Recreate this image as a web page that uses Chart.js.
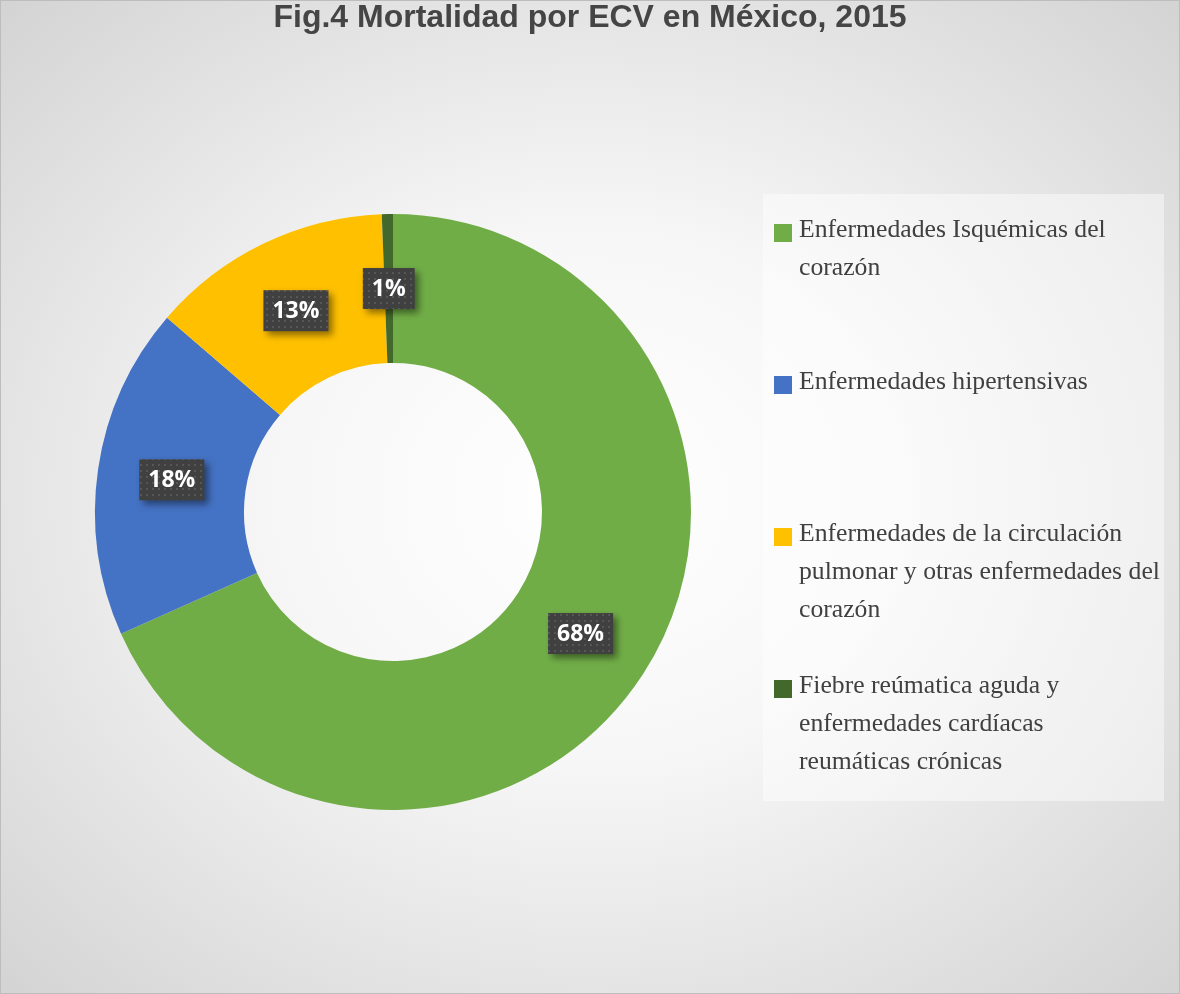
<!DOCTYPE html>
<html>
<head>
<meta charset="utf-8">
<script src="https://cdn.jsdelivr.net/npm/chart.js@4.4.1/dist/chart.umd.min.js"></script>
<style>
  body { margin: 0; }
  #wrap {
    position: relative; width: 1180px; height: 994px; box-sizing: border-box;
    border: 1px solid #bdbdbd;
    background: radial-gradient(ellipse 75% 75% at 50% 50%, #ffffff 0%, #f7f7f7 35%, #d0d0d0 100%);
    overflow: hidden;
  }
  #title {
    position: absolute; left: 0; top: 0; width: 100%; text-align: center;
    font: bold 32px "Liberation Sans", Arial, sans-serif; line-height: 31px; color: #454545;
  }
  canvas { position: absolute; left: 0; top: 0; }
  #legend {
    position: absolute; left: 762px; top: 193px; width: 401px; height: 607px;
    background: rgba(255,255,255,0.45); box-sizing: border-box; padding-top: 16px;
  }
  .item { position: relative; height: 152px; padding-left: 36px; white-space: nowrap;
    font: 25.7px "Liberation Serif", "Times New Roman", serif; line-height: 38px; color: #404040; }
  .item span.box { position: absolute; left: 11px; top: 14px; width: 18px; height: 18px; }
</style>
</head>
<body>
<div id="wrap">
  <canvas id="chart" width="1180" height="994"></canvas>
  <div id="title">Fig.4 Mortalidad por ECV en México, 2015</div>
  <div id="legend"></div>
</div>
<script>
// data (percent of deaths)
const categories = [
    ['Enfermedades Isquémicas del', 'corazón'],
    ['Enfermedades hipertensivas'],
    ['Enfermedades de la circulación', 'pulmonar y otras enfermedades del', 'corazón'],
    ['Fiebre reúmatica aguda y', 'enfermedades cardíacas', 'reumáticas crónicas']
];
const values = [68.3, 18.0, 13.1, 0.6];
const colors = ['#70AD47', '#4472C4', '#FFC000', '#43682B'];

// legend
const legend = document.getElementById('legend');
categories.forEach((lines, i) => {
    const div = document.createElement('div');
    div.className = 'item';
    div.innerHTML = '<span class="box" style="background:' + colors[i] + '"></span>' + lines.join('<br>');
    legend.appendChild(div);
});

// dotted dark fill for the labels
function makePattern(ctx) {
    const c = document.createElement('canvas');
    c.width = 6; c.height = 6;
    const p = c.getContext('2d');
    p.fillStyle = '#404040';
    p.fillRect(0, 0, 6, 6);
    p.fillStyle = '#565656';
    p.fillRect(1, 1, 2, 2);
    return ctx.createPattern(c, 'repeat');
}

const labelPlugin = {
    id: 'pctLabels',
    afterDatasetsDraw(chart) {
        const ctx = chart.ctx;
        const meta = chart.getDatasetMeta(0);
        const total = values.reduce((a, b) => a + b, 0);
        const pattern = makePattern(ctx);
        meta.data.forEach((arc, i) => {
            const pos = arc.tooltipPosition();
            const text = Math.round(values[i] / total * 100) + '%';
            ctx.save();
            ctx.font = 'bold 23px "Open Sans", "Noto Sans", sans-serif';
            const w = ctx.measureText(text).width + 18;
            const h = 41;
            ctx.shadowColor = 'rgba(0,0,0,0.45)';
            ctx.shadowBlur = 7;
            ctx.shadowOffsetX = 4;
            ctx.shadowOffsetY = 4;
            ctx.fillStyle = pattern;
            ctx.fillRect(pos.x - w / 2, pos.y - h / 2, w, h);
            ctx.shadowColor = 'transparent';
            ctx.fillStyle = '#ffffff';
            ctx.textAlign = 'center';
            ctx.textBaseline = 'middle';
            ctx.fillText(text, pos.x, pos.y + 1);
            ctx.restore();
        });
    }
};

new Chart(document.getElementById('chart').getContext('2d'), {
    type: 'doughnut',
    data: {
        labels: categories.map(l => l.join(' ')),
        datasets: [{
            data: values,
            backgroundColor: colors,
            borderWidth: 0
        }]
    },
    options: {
        responsive: false,
        animation: false,
        cutout: '50%',
        layout: { padding: { left: 94, right: 490, top: 213, bottom: 185 } },
        plugins: {
            legend: { display: false },
            tooltip: { enabled: false }
        }
    },
    plugins: [labelPlugin]
});
</script>
</body>
</html>
